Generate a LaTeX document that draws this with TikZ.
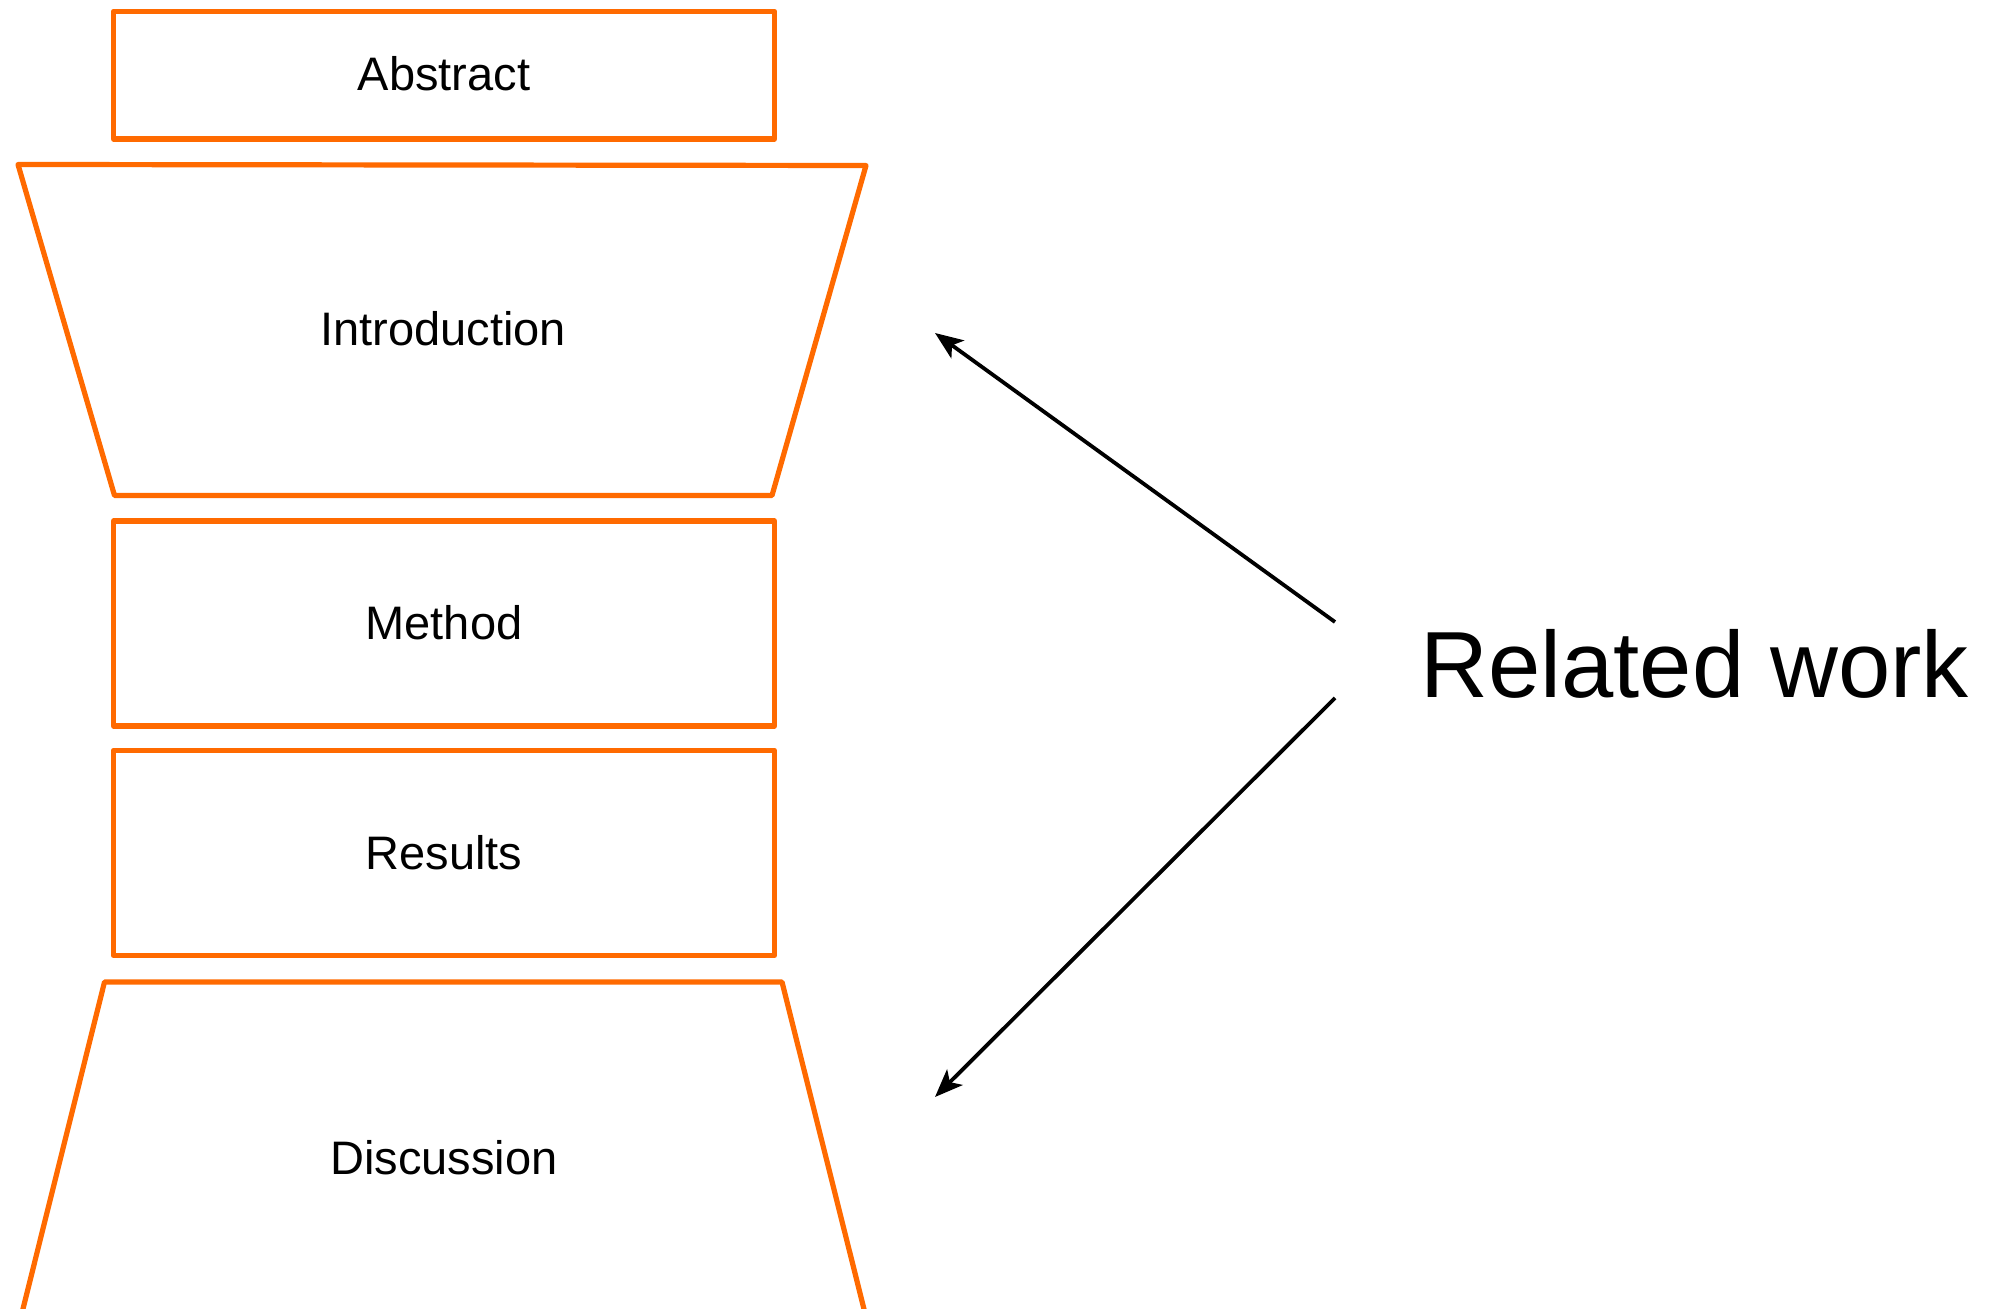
\documentclass[tikz,border=0pt]{standalone}
\usepackage{fontspec}
\setmainfont{Liberation Sans}
\usetikzlibrary{arrows.meta}
\definecolor{boxorange}{HTML}{FF6A00}
\tikzset{
  sect/.style={draw=boxorange, line width=2.6pt, line join=round},
  lbl/.style={font=\fontsize{23.5pt}{28pt}\selectfont, anchor=base, inner sep=0pt},
  bigl/.style={font=\fontsize{47pt}{56pt}\selectfont, anchor=base west, inner sep=0pt},
  arr/.style={line width=1.9pt, -{Stealth[length=14pt,width=11pt,inset=3.5pt]}}
}
\begin{document}
\begin{tikzpicture}[x=0.5pt,y=-0.5pt]
\useasboundingbox (0,0) rectangle (1997,1309);
\begin{scope}
\clip (0,0) rectangle (1997,1309);
% boxes
\draw[sect] (113.5,11.5) rectangle (774.5,139);
\draw[sect] (18,164.5) -- (866,165.5) -- (772,495.5) -- (114.5,495.5) -- cycle;
\draw[sect] (113.5,521) rectangle (774.5,726);
\draw[sect] (113.5,750.5) rectangle (774.5,955.5);
\draw[sect] (14,1345) -- (104.5,982) -- (782,982) -- (873,1345);
\end{scope}
% labels
\node[lbl] (abstract) at (444,91) {Abstract};
\node[lbl] (intro) at (443,346) {Introduction};
\node[lbl] (method) at (444,640) {Method};
\node[lbl] (results) at (444,869) {Results};
\node[lbl] (discussion) at (444,1174) {Discussion};
\node[bigl] (related) at (1420,698) {Related work};
% arrows
\coordinate (t1) at (1335,622);
\coordinate (h1) at (935,333);
\coordinate (t2) at (1335,698);
\coordinate (h2) at (935,1097);
\draw[arr] (t1) -- (h1);
\draw[arr] (t2) -- (h2);
\end{tikzpicture}
\end{document}
